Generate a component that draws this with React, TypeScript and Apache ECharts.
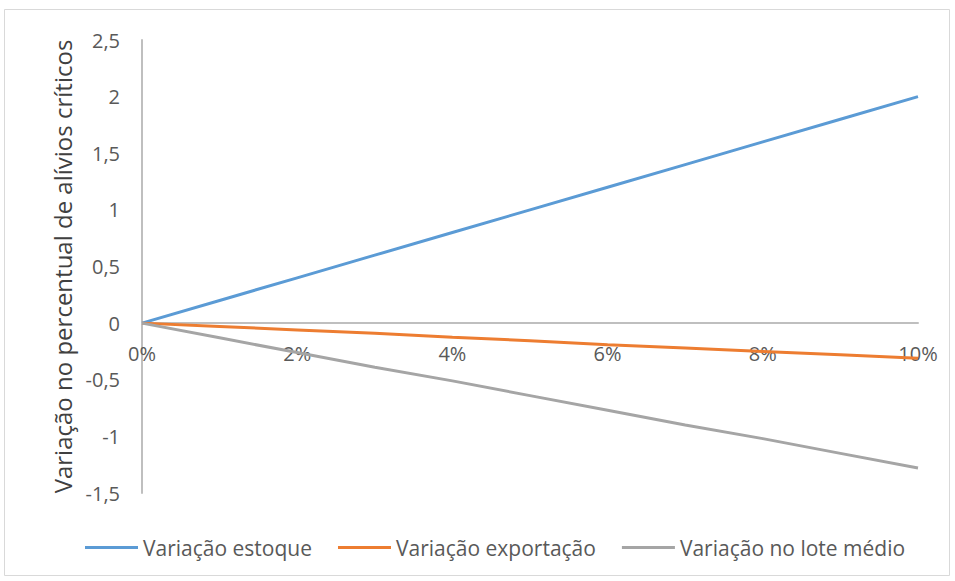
import React, { useEffect, useRef } from "react";
import * as echarts from "echarts";

const categories = ["0%", "1%", "2%", "3%", "4%", "5%", "6%", "7%", "8%", "9%", "10%"];
const estoque = [0, 0.2, 0.4, 0.6, 0.8, 1.0, 1.2, 1.4, 1.6, 1.8, 2.0];
const exportacao = [0, -0.03, -0.06, -0.09, -0.125, -0.155, -0.19, -0.22, -0.25, -0.28, -0.31];
const loteMedio = [0, -0.13, -0.26, -0.39, -0.51, -0.64, -0.77, -0.9, -1.02, -1.15, -1.28];
const seriesNames = ["Variação estoque", "Variação exportação", "Variação no lote médio"];
const yAxisTitle = "Variação no percentual de alívios críticos";

const FONT = "'Open Sans', sans-serif";

export default function App() {
  const ref = useRef<HTMLDivElement>(null);
  useEffect(() => {
    if (!ref.current) return;
    const chart = echarts.init(ref.current, null, { renderer: "svg" });
    const mk = (name: string, data: number[], color: string) => ({
      name,
      type: "line",
      data,
      symbol: "none",
      lineStyle: { color, width: 3 },
      itemStyle: { color },
    });
    const gridTop = 40;
    const gridBottom = 88;
    const plotH = 581 - gridTop - gridBottom;
    const yMin = -1.5;
    const yMax = 2.5;
    const zeroOffset = (plotH * (0 - yMin)) / (yMax - yMin);
    chart.setOption({
      animation: false,
      backgroundColor: "#ffffff",
      textStyle: { fontFamily: FONT },
      graphic: [
        {
          type: "rect",
          shape: { x: 4.5, y: 9.5, width: 945, height: 566 },
          style: { fill: "none", stroke: "#d9d9d9", lineWidth: 1 },
          silent: true,
        },
      ],
      grid: { left: 142, right: 37, top: gridTop, bottom: gridBottom, containLabel: false },
      legend: {
        bottom: 18,
        left: 80,
        icon: "rect",
        itemWidth: 53,
        itemHeight: 3,
        itemGap: 26,
        textStyle: { fontSize: 21, color: "#595959", fontFamily: FONT },
        data: seriesNames,
      },
      xAxis: {
        type: "category",
        data: categories,
        boundaryGap: false,
        offset: -zeroOffset,
        axisLine: { onZero: false, lineStyle: { color: "#bfbfbf", width: 2 } },
        axisTick: { show: false },
        axisLabel: { interval: 1, fontSize: 20, color: "#595959", margin: 20, fontFamily: FONT },
        splitLine: { show: false },
      },
      yAxis: {
        type: "value",
        min: yMin,
        max: yMax,
        interval: 0.5,
        name: yAxisTitle,
        nameLocation: "middle",
        nameGap: 67,
        nameRotate: 90,
        nameTextStyle: { fontSize: 24, color: "#404040", fontFamily: FONT },
        axisLine: { show: true, onZero: false, lineStyle: { color: "#bfbfbf", width: 2 } },
        axisTick: { show: false },
        splitLine: { show: false },
        axisLabel: {
          fontSize: 20,
          color: "#595959",
          margin: 22,
          fontFamily: FONT,
          formatter: (v: number) => String(v).replace(".", ","),
        },
      },
      series: [
        mk(seriesNames[0], estoque, "#5B9BD5"),
        mk(seriesNames[1], exportacao, "#ED7D31"),
        mk(seriesNames[2], loteMedio, "#A5A5A5"),
      ],
    });
    return () => chart.dispose();
  }, []);
  return (
    <div
      ref={ref}
      style={{ position: "fixed", left: 0, top: 0, width: 955, height: 581 }}
    />
  );
}
